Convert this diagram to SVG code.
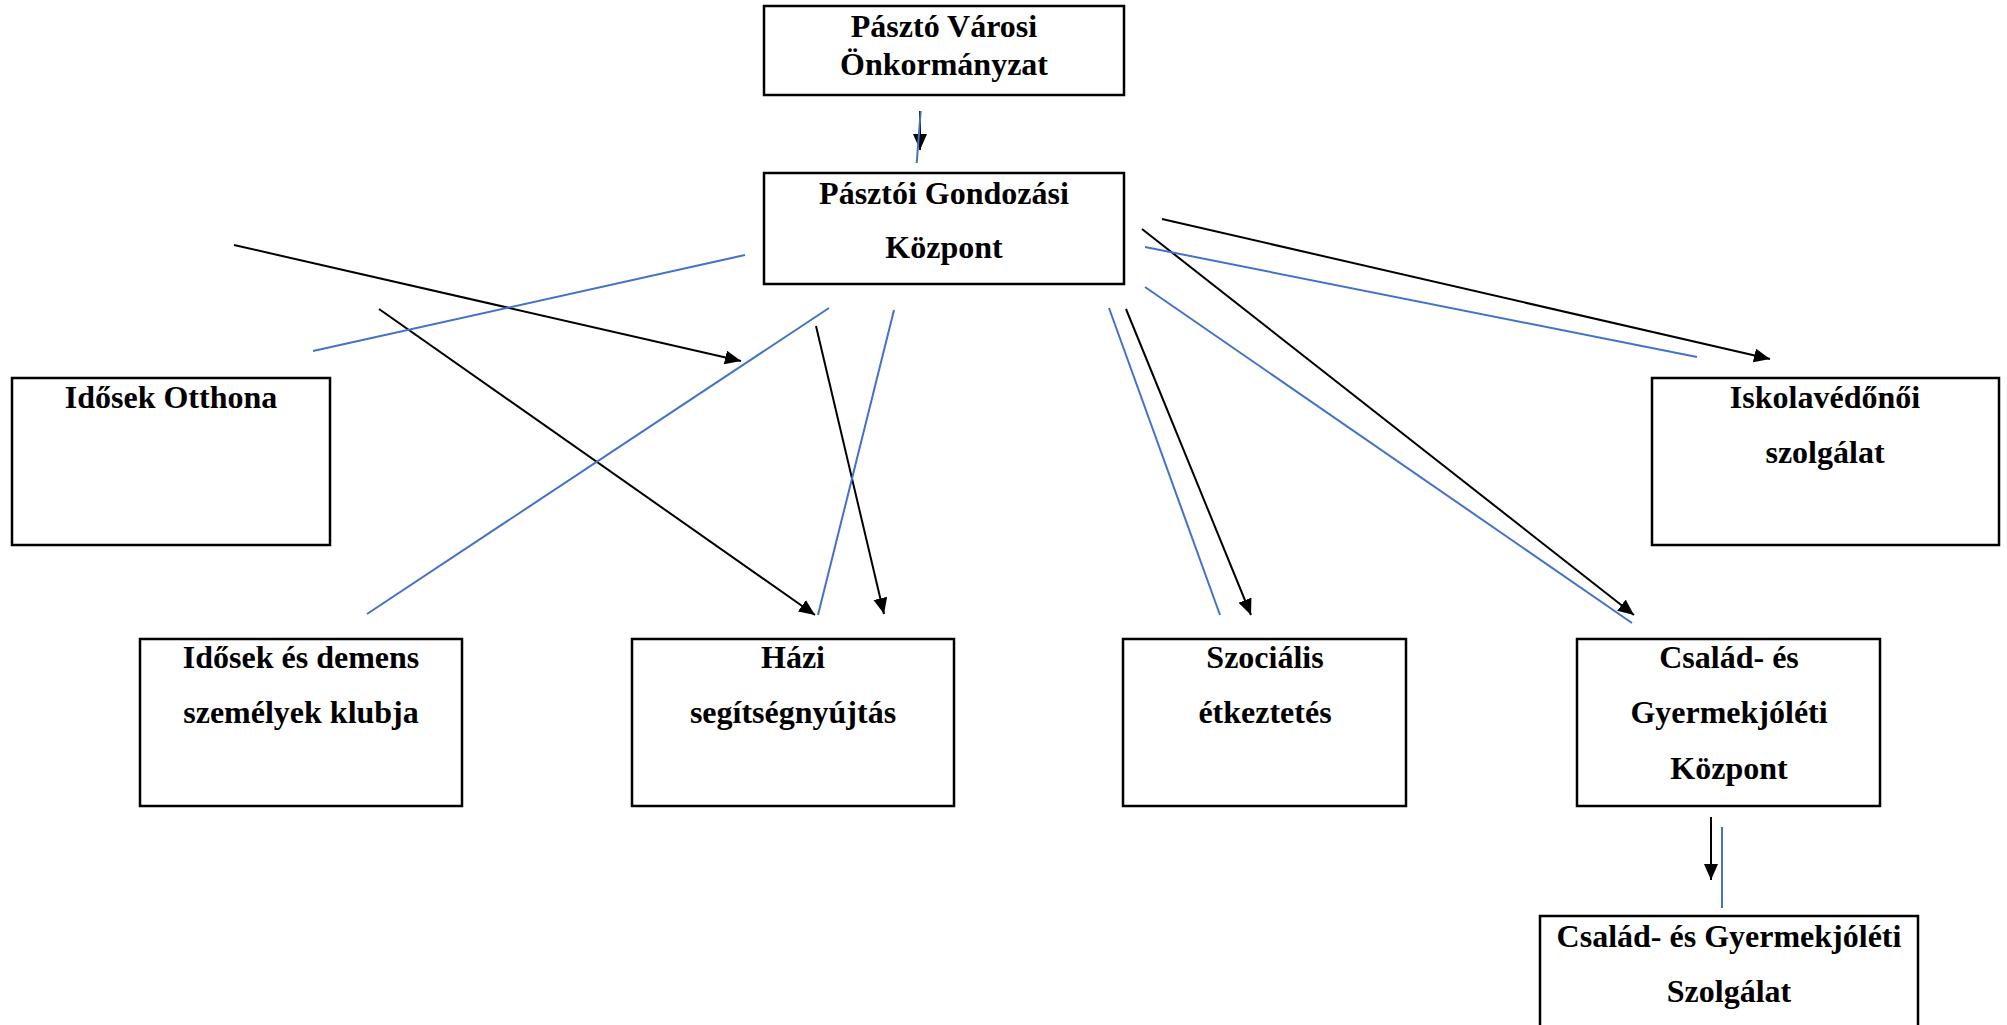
<svg xmlns="http://www.w3.org/2000/svg" width="2007" height="1025" viewBox="0 0 2007 1025">
<style>
.box{fill:#fff;stroke:#000;stroke-width:2.5}
.t{font-family:"Liberation Serif","Times New Roman",serif;font-weight:bold;font-size:32px;fill:#000;text-anchor:middle}
.k{stroke:#000;stroke-width:2;fill:none}
.b{stroke:#4472c4;stroke-width:2;fill:none}
</style>
<defs>
<marker id="ah" markerUnits="userSpaceOnUse" markerWidth="17" markerHeight="15" refX="16" refY="7" orient="auto">
<path d="M0,0 L16,7 L0,14 z" fill="#000"/>
</marker>
</defs>
<rect width="2007" height="1025" fill="#fff"/>
<g id="n-onkormanyzat"><rect class="box" x="764" y="6" width="360" height="89"/><text class="t" x="944" y="37">Pásztó Városi</text><text class="t" x="944" y="75">Önkormányzat</text></g>
<g id="n-gondozasi"><rect class="box" x="764" y="173" width="360" height="111"/><text class="t" x="944" y="204">Pásztói Gondozási</text><text class="t" x="944" y="258">Központ</text></g>
<g id="n-otthona"><rect class="box" x="12" y="378" width="318" height="167"/><text class="t" x="171" y="408">Idősek Otthona</text></g>
<g id="n-iskola"><rect class="box" x="1652" y="378" width="347" height="167"/><text class="t" x="1825" y="408">Iskolavédőnői</text><text class="t" x="1825" y="463">szolgálat</text></g>
<g id="n-klub"><rect class="box" x="140" y="639" width="322" height="167"/><text class="t" x="301" y="668">Idősek és demens</text><text class="t" x="301" y="723">személyek klubja</text></g>
<g id="n-hazi"><rect class="box" x="632" y="639" width="322" height="167"/><text class="t" x="793" y="668">Házi</text><text class="t" x="793" y="723">segítségnyújtás</text></g>
<g id="n-szocialis"><rect class="box" x="1123" y="639" width="283" height="167"/><text class="t" x="1265" y="668">Szociális</text><text class="t" x="1265" y="723">étkeztetés</text></g>
<g id="n-csgyk"><rect class="box" x="1577" y="639" width="303" height="167"/><text class="t" x="1729" y="668">Család- és</text><text class="t" x="1729" y="723">Gyermekjóléti</text><text class="t" x="1729" y="779">Központ</text></g>
<g id="n-csgysz"><rect class="box" x="1540" y="916" width="378" height="130"/><text class="t" x="1729" y="947">Család- és Gyermekjóléti</text><text class="t" x="1729" y="1002">Szolgálat</text></g>
<g id="connectors">
<line class="k" x1="920" y1="111" x2="920" y2="150" marker-end="url(#ah)"/>
<line class="k" x1="234" y1="245" x2="741" y2="361" marker-end="url(#ah)"/>
<line class="k" x1="379" y1="309" x2="815" y2="615" marker-end="url(#ah)"/>
<line class="k" x1="816" y1="326" x2="884" y2="614" marker-end="url(#ah)"/>
<line class="k" x1="1126" y1="309" x2="1251" y2="615" marker-end="url(#ah)"/>
<line class="k" x1="1142" y1="229" x2="1634" y2="615" marker-end="url(#ah)"/>
<line class="k" x1="1162" y1="219" x2="1770" y2="359" marker-end="url(#ah)"/>
<line class="k" x1="1711" y1="817" x2="1711" y2="880" marker-end="url(#ah)"/>
<line class="b" x1="920.7" y1="111" x2="916.7" y2="163"/>
<line class="b" x1="313" y1="351" x2="745" y2="255"/>
<line class="b" x1="829" y1="308" x2="367" y2="614"/>
<line class="b" x1="894" y1="310" x2="818" y2="615"/>
<line class="b" x1="1109" y1="308" x2="1220" y2="615"/>
<line class="b" x1="1145" y1="287" x2="1632" y2="623"/>
<line class="b" x1="1145" y1="247" x2="1697" y2="357"/>
<line class="b" x1="1722" y1="827" x2="1722" y2="908"/>
</g>
</svg>
